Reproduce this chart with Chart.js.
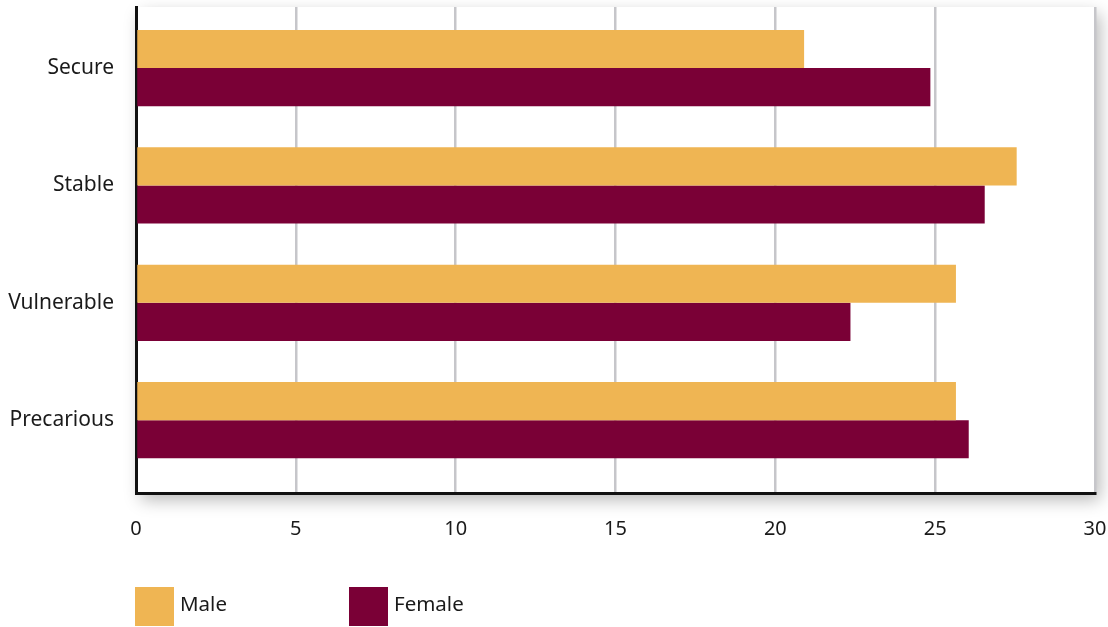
<!DOCTYPE html>
<html>
<head>
<meta charset="utf-8">
<script src="https://cdn.jsdelivr.net/npm/chart.js@4.4.1/dist/chart.umd.min.js"></script>
<style>
    body { margin: 0; background: #fff; font-family: "Noto Sans", sans-serif; }
    #wrap { position: relative; width: 1108px; height: 627px; }
    #chart-box { position: absolute; left: 0; top: 0; width: 1108px; height: 627px; }
    #legend { position: absolute; left: 135px; top: 587px; display: flex; }
    .legend-item { display: flex; align-items: center; width: 214px; height: 39px; font-size: 20.5px; line-height: 1; color: #1a1a1a; }
    .legend-swatch { width: 39px; height: 39px; margin-right: 6px; }
    .legend-text { position: relative; top: -3px; }
</style>
</head>
<body>
<div id="wrap">
    <div id="chart-box"><canvas id="employmentChart"></canvas></div>
    <div id="legend"></div>
</div>
<script>
const categories = ['Secure', 'Stable', 'Vulnerable', 'Precarious'];
const maleValues = [20.9, 27.55, 25.65, 25.65];
const femaleValues = [24.85, 26.55, 22.35, 26.05];
const xTicks = [0, 5, 10, 15, 20, 25, 30];

const MALE_COLOR = '#EFB553';
const FEMALE_COLOR = '#7A0036';

// white plot panel with a soft drop shadow
const panelShadow = {
    id: 'panelShadow',
    beforeDraw(chart) {
        const { ctx, chartArea: a } = chart;
        ctx.save();
        ctx.shadowColor = 'rgba(0,0,0,0.28)';
        ctx.shadowBlur = 16;
        ctx.shadowOffsetX = 5;
        ctx.shadowOffsetY = 7;
        ctx.fillStyle = '#fff';
        ctx.fillRect(a.left, a.top, a.right - a.left, a.bottom - a.top);
        ctx.restore();
    }
};

const noOverhang = scale => {
    scale.paddingTop = 0;
    scale.paddingBottom = 0;
    scale.paddingLeft = 0;
    scale.paddingRight = 0;
};

const toPoints = values => values.map((v, i) => ({ x: v, y: i }));

const chart = new Chart(document.getElementById('employmentChart'), {
    type: 'bar',
    data: {
        datasets: [
            { label: 'Male', data: toPoints(maleValues), backgroundColor: MALE_COLOR },
            { label: 'Female', data: toPoints(femaleValues), backgroundColor: FEMALE_COLOR }
        ]
    },
    options: {
        indexAxis: 'y',
        responsive: true,
        maintainAspectRatio: false,
        animation: false,
        categoryPercentage: 0.65,
        barPercentage: 1,
        layout: { padding: { top: 7, right: 13, left: 0, bottom: 0 } },
        plugins: { legend: { display: false }, tooltip: { enabled: false } },
        scales: {
            x: {
                type: 'linear',
                min: 0,
                max: 30,
                afterBuildTicks: scale => { scale.ticks = xTicks.map(v => ({ value: v })); },
                afterFit: scale => { scale.height = 134; noOverhang(scale); },
                grid: { color: '#c6c6ca', lineWidth: 2.5, drawTicks: false },
                border: { display: true, color: '#111', width: 3 },
                ticks: { padding: 24, color: '#1a1a1a', font: { family: 'Noto Sans', size: 20 } }
            },
            y: {
                type: 'linear',
                reverse: true,
                offset: false,
                min: -0.52,
                max: 3.62,
                afterBuildTicks: scale => { scale.ticks = categories.map((_, i) => ({ value: i })); },
                afterFit: scale => { scale.width = 136; noOverhang(scale); },
                grid: { display: false, drawTicks: false, offset: false },
                border: { display: true, color: '#111', width: 3 },
                ticks: {
                    padding: 22,
                    color: '#1a1a1a',
                    font: { family: 'Noto Sans', size: 21 },
                    callback: v => categories[v]
                }
            }
        }
    },
    plugins: [panelShadow]
});

const legendEl = document.getElementById('legend');
chart.data.datasets.forEach(ds => {
    const item = document.createElement('div');
    item.className = 'legend-item';
    item.innerHTML = `<span class="legend-swatch" style="background:${ds.backgroundColor}"></span><span class="legend-text">${ds.label}</span>`;
    legendEl.appendChild(item);
});
</script>
</body>
</html>
